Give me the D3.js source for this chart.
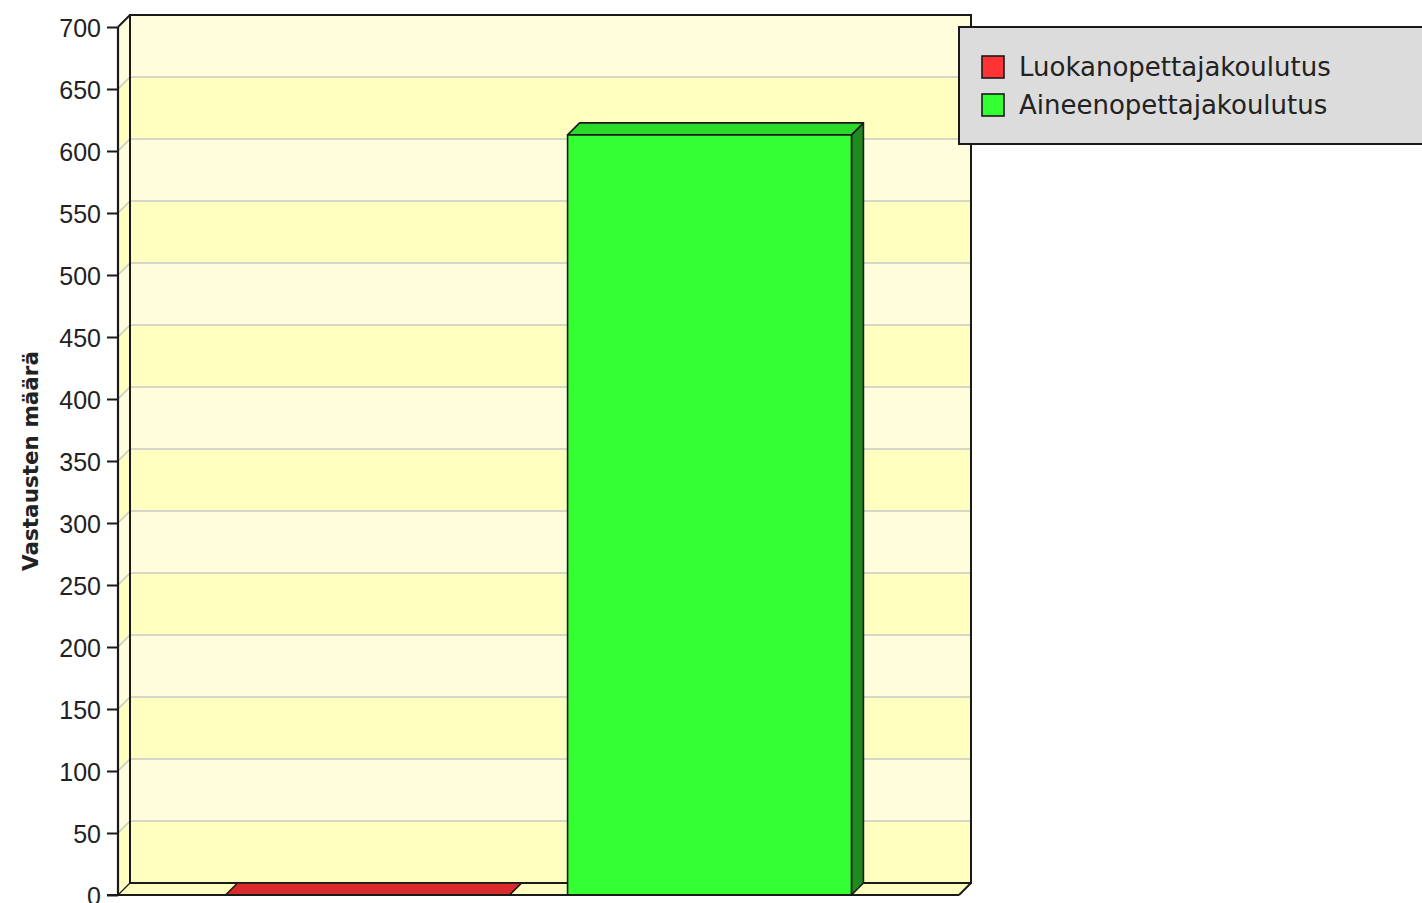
<!DOCTYPE html>
<html>
<head>
<meta charset="utf-8">
<script src="https://cdn.jsdelivr.net/npm/d3@7"></script>
<style>
  html, body { margin: 0; padding: 0; background: #ffffff; }
  svg { display: block; }
</style>
</head>
<body>
<svg id="chart" width="1422" height="903"></svg>
<script>
// ---- data ----
const seriesNames = ["Luokanopettajakoulutus", "Aineenopettajakoulutus"];
const seriesValues = [0, 613];
const yTicks = [0, 50, 100, 150, 200, 250, 300, 350, 400, 450, 500, 550, 600, 650, 700];
const yTitle = "Vastausten määrä";
const frontColors = ["#ff3333", "#33ff33"];
const topColors = ["#d92b2b", "#2bd92b"];
const sideColors = ["#a31f1f", "#1f8a1f"];

// ---- layout ----
const svg = d3.select("#chart");
const x0 = 118, x1 = 959;      // front plot extent
const yBottom = 895, yTop = 27; // front
const dx = 12, dy = -12;        // depth offset

const y = d3.scaleLinear().domain([0, 700]).range([yBottom, yTop]);
const x = d3.scaleBand().domain(seriesNames).range([x0, x1]).paddingInner(0.17).paddingOuter(0.3145);

const ink = "#1a1a1a";

// back wall stripes
const bands = d3.range(yTicks.length - 1).map(i => [yTicks[i], yTicks[i + 1], i]);
const gWall = svg.append("g");
gWall.selectAll("rect.band").data(bands).join("rect")
  .attr("x", x0 + dx)
  .attr("y", d => y(d[1]) + dy)
  .attr("width", x1 - x0)
  .attr("height", d => y(d[0]) - y(d[1]))
  .attr("fill", d => d[2] % 2 === 0 ? "#ffffc0" : "#fffddc");
// side wall stripes
gWall.selectAll("path.sband").data(bands).join("path")
  .attr("d", d => `M${x0},${y(d[0])} L${x0 + dx},${y(d[0]) + dy} L${x0 + dx},${y(d[1]) + dy} L${x0},${y(d[1])} Z`)
  .attr("fill", d => d[2] % 2 === 0 ? "#ffffc0" : "#fffddc");
// floor
svg.append("path")
  .attr("d", `M${x0},${yBottom} L${x0 + dx},${yBottom + dy} L${x1 + dx},${yBottom + dy} L${x1},${yBottom} Z`)
  .attr("fill", "#ffffc0");

// grid lines
const gridTicks = yTicks.slice(1, -1);
svg.append("g").selectAll("line").data(gridTicks).join("line")
  .attr("x1", x0 + dx).attr("x2", x1 + dx)
  .attr("y1", d => y(d) + dy).attr("y2", d => y(d) + dy)
  .attr("stroke", "#c8c8c8").attr("stroke-width", 1.6);
svg.append("g").selectAll("line").data(gridTicks).join("line")
  .attr("x1", x0).attr("x2", x0 + dx)
  .attr("y1", d => y(d)).attr("y2", d => y(d) + dy)
  .attr("stroke", "#c8c8c8").attr("stroke-width", 1.6);

// wall outlines
const outline = svg.append("g").attr("fill", "none").attr("stroke", ink).attr("stroke-width", 2);
outline.append("path")
  .attr("d", `M${x0 + dx},${yBottom + dy} L${x0 + dx},${yTop + dy} L${x1 + dx},${yTop + dy} L${x1 + dx},${yBottom + dy} L${x0 + dx},${yBottom + dy}`);
outline.append("path")
  .attr("d", `M${x0},${yTop} L${x0 + dx},${yTop + dy}`);
outline.append("path")
  .attr("d", `M${x0},${yBottom} L${x0 + dx},${yBottom + dy}`).attr("stroke-width", 1.2);
outline.append("path")
  .attr("d", `M${x1},${yBottom} L${x1 + dx},${yBottom + dy}`);

// bars
const gBars = svg.append("g").attr("stroke", ink).attr("stroke-width", 1.6).attr("stroke-linejoin", "round");
seriesNames.forEach((name, i) => {
  const bx = x(name), bw = x.bandwidth();
  const top = y(seriesValues[i]);
  // side
  gBars.append("path")
    .attr("d", `M${bx + bw},${top} L${bx + bw + dx},${top + dy} L${bx + bw + dx},${yBottom + dy} L${bx + bw},${yBottom} Z`)
    .attr("fill", sideColors[i]);
  // top
  gBars.append("path")
    .attr("d", `M${bx},${top} L${bx + dx},${top + dy} L${bx + bw + dx},${top + dy} L${bx + bw},${top} Z`)
    .attr("fill", topColors[i]);
  // front
  if (yBottom - top > 0) {
    gBars.append("rect")
      .attr("x", bx).attr("y", top)
      .attr("width", bw).attr("height", yBottom - top)
      .attr("fill", frontColors[i]);
  }
});

// front axis
const axisG = svg.append("g").attr("transform", `translate(${x0},0)`);
axisG.call(d3.axisLeft(y).tickValues(yTicks).tickSize(11).tickPadding(6).tickFormat(d3.format("d")));
axisG.select(".domain").attr("stroke", ink).attr("stroke-width", 2.2)
  .attr("d", `M0,${yTop}V${yBottom}`);
axisG.selectAll(".tick line").attr("stroke", ink).attr("stroke-width", 2);
axisG.selectAll(".tick text")
  .attr("fill", "#222")
  .attr("font-family", "'Liberation Sans', Arial, sans-serif")
  .attr("font-size", 25)
  .attr("dy", "0.38em");

// floor front line
svg.append("line")
  .attr("x1", x0 - 11).attr("x2", x1)
  .attr("y1", yBottom).attr("y2", yBottom)
  .attr("stroke", ink).attr("stroke-width", 2.2);

// y title
svg.append("text")
  .attr("transform", `translate(38,${(yTop + yBottom) / 2}) rotate(-90)`)
  .attr("text-anchor", "middle")
  .attr("font-family", "'DejaVu Sans', sans-serif")
  .attr("font-weight", "bold")
  .attr("font-size", 21.5)
  .attr("fill", "#222")
  .text(yTitle);

// legend
const lg = svg.append("g");
lg.append("rect")
  .attr("x", 959).attr("y", 27).attr("width", 480).attr("height", 117)
  .attr("fill", "#dcdcdc").attr("stroke", ink).attr("stroke-width", 2);
const items = lg.selectAll("g.item").data(seriesNames).join("g")
  .attr("transform", (d, i) => `translate(982,${56 + i * 38})`);
items.append("rect")
  .attr("width", 22).attr("height", 22)
  .attr("fill", (d, i) => frontColors[i])
  .attr("stroke", ink).attr("stroke-width", 1.6);
items.append("text")
  .attr("x", 37).attr("y", 20)
  .attr("font-family", "'DejaVu Sans', sans-serif")
  .attr("font-size", 26)
  .attr("fill", "#222")
  .text(d => d);
</script>
</body>
</html>
